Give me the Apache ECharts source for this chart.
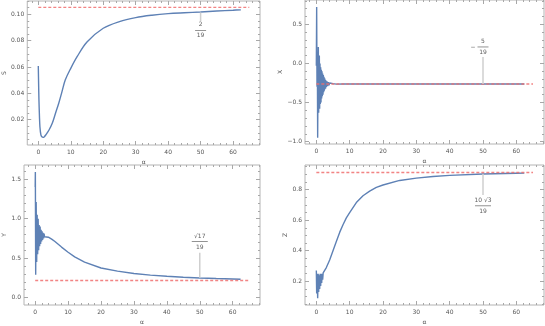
<!DOCTYPE html>
<html>
<head>
<meta charset="utf-8">
<script src="https://cdn.jsdelivr.net/npm/echarts@6/dist/echarts.min.js"></script>
<style>
  html, body { margin: 0; padding: 0; background: #fff; }
  #main { width: 545px; height: 326px; }
</style>
</head>
<body>
<div id="main"></div>
<script>
// 数据 (从图上读出来的)
var alphaS = [0, 0.1, 0.2, 0.35, 0.5, 0.8, 1.1, 1.5, 1.9, 2.3, 3.3, 4.3, 5.3, 6.3, 7.3, 8.3, 10, 12, 15, 20, 25, 30, 35, 40, 45, 50, 55, 60, 62.4];
var valS = [0.0608, 0.047, 0.035, 0.023, 0.0147, 0.0084, 0.007, 0.0066, 0.0072, 0.0084, 0.0122, 0.0173, 0.0249, 0.0325, 0.0413, 0.0501, 0.059, 0.068, 0.079, 0.0894, 0.0945, 0.0975, 0.0993, 0.1005, 0.1012, 0.1018, 0.1025, 0.1031, 0.1034];

var alphaX = [0, 0.1, 0.2, 0.3, 0.4, 0.5, 0.6, 0.7, 0.8, 0.9, 1.0, 1.1, 1.2, 1.3, 1.4, 1.5, 1.6, 1.7, 1.8, 1.9, 2.0, 2.1, 2.2, 2.3, 2.4, 2.5, 2.6, 2.7, 2.8, 2.9, 3.0, 3.2, 3.4, 3.6, 3.8, 4.0, 4.5, 5, 6, 8, 10, 20, 30, 40, 50, 60, 62.4];
var valX = [-0.03, 0.72, -0.3, 0.15, -0.95, -0.2, 0.21, -0.63, -0.1, 0.1, -0.58, 0.0, -0.52, -0.05, -0.5, -0.08, -0.45, -0.1, -0.42, -0.13, -0.4, -0.15, -0.37, -0.17, -0.35, -0.19, -0.33, -0.21, -0.32, -0.22, -0.3, -0.23, -0.29, -0.24, -0.28, -0.25, -0.27, -0.258, -0.265, -0.262, -0.263, -0.263, -0.263, -0.263, -0.263, -0.263, -0.263];

var alphaY = [0, 0.05, 0.15, 0.3, 0.45, 0.6, 0.75, 0.9, 1.05, 1.2, 1.35, 1.5, 1.65, 1.8, 1.95, 2.1, 2.25, 2.4, 2.55, 2.7, 2.85, 3.0, 4, 5, 6, 7, 8, 10, 12, 15, 20, 25, 30, 35, 40, 45, 50, 55, 60, 62.4];
var valY = [1.4, 1.59, 0.29, 1.21, 0.45, 1.05, 0.55, 1.0, 0.6, 0.92, 0.65, 0.9, 0.68, 0.86, 0.71, 0.84, 0.73, 0.82, 0.75, 0.81, 0.77, 0.785, 0.765, 0.74, 0.71, 0.675, 0.64, 0.575, 0.515, 0.45, 0.375, 0.335, 0.305, 0.285, 0.27, 0.258, 0.249, 0.242, 0.236, 0.233];

var alphaZ = [0, 0.1, 0.25, 0.4, 0.55, 0.7, 0.85, 1.0, 1.15, 1.3, 1.45, 1.6, 1.75, 1.9, 2.05, 2.5, 3, 4, 5, 6, 7, 8, 9, 10, 12, 14, 16, 18, 20, 25, 30, 35, 40, 50, 60, 62.4];
var valZ = [0.27, 0.12, 0.25, 0.09, 0.25, 0.13, 0.24, 0.15, 0.25, 0.17, 0.25, 0.19, 0.25, 0.21, 0.255, 0.26, 0.29, 0.34, 0.40, 0.46, 0.52, 0.57, 0.615, 0.65, 0.715, 0.76, 0.79, 0.815, 0.83, 0.86, 0.875, 0.886, 0.893, 0.902, 0.907, 0.908];

// 极限值 (红色虚线)
var refS = 2 / 19;
var refX = -5 / 19;
var refY = Math.sqrt(17) / 19;
var refZ = 10 * Math.sqrt(3) / 19;
var refSpan = [0, 65];

// 刻度
var xMajor = [0, 10, 20, 30, 40, 50, 60];
var xMinor = [-2, 2, 4, 6, 8, 12, 14, 16, 18, 22, 24, 26, 28, 32, 34, 36, 38, 42, 44, 46, 48, 52, 54, 56, 58, 62, 64, 66, 68];
var yMajorS = [0.02, 0.04, 0.06, 0.08, 0.10];
var yMinorS = [0.005, 0.01, 0.015, 0.025, 0.03, 0.035, 0.045, 0.05, 0.055, 0.065, 0.07, 0.075, 0.085, 0.09, 0.095, 0.105, 0.11];
var yMajorX = [-1.0, -0.5, 0.0, 0.5];
var yMinorX = [-0.9, -0.8, -0.7, -0.6, -0.4, -0.3, -0.2, -0.1, 0.1, 0.2, 0.3, 0.4, 0.6, 0.7, 0.8];
var yMajorY = [0.0, 0.5, 1.0, 1.5];
var yMinorY = [0.1, 0.2, 0.3, 0.4, 0.6, 0.7, 0.8, 0.9, 1.1, 1.2, 1.3, 1.4, 1.6];
var yMajorZ = [0.2, 0.4, 0.6, 0.8];
var yMinorZ = [0.05, 0.1, 0.15, 0.25, 0.3, 0.35, 0.45, 0.5, 0.55, 0.65, 0.7, 0.75, 0.85, 0.9, 0.95];

// 注释 (分数) 的位置
var noteAlpha = 50;

var myChart = echarts.init(document.getElementById('main'));

var frameColor = '#b4b4b4';
var tickColor = '#a8a8a8';
var textColor = '#555';
var blue = '#5E81B5';

function zip(a, b) {
    var out = [];
    for (var i = 0; i < a.length; i++) {
        out.push([a[i], b[i]]);
    }
    return out;
}

var panels = [
    {name: 'S', alpha: alphaS, val: valS, ref: refS, yMin: 0.0008, yMax: 0.1101, major: yMajorS, minor: yMinorS, digits: 2,
        grid: {left: 21, top: 1, width: 239, height: 144}, smooth: 0.35,
        line: [0.1014, 0.0949], note: 0.0878, num: '2', minus: false},
    {name: 'X', alpha: alphaX, val: valX, ref: refX, yMin: -1.03, yMax: 0.81, major: yMajorX, minor: yMinorX, digits: 1,
        grid: {left: 305, top: 0, width: 239, height: 144}, smooth: false,
        line: [refX, 0.082], note: 0.21, num: '5', minus: true},
    {name: 'Y', alpha: alphaY, val: valY, ref: refY, yMin: -0.094, yMax: 1.68, major: yMajorY, minor: yMinorY, digits: 1,
        grid: {left: 21, top: 165, width: 239, height: 145}, smooth: false,
        line: [0.25, 0.567], note: 0.71, num: '√17', minus: false},
    {name: 'Z', alpha: alphaZ, val: valZ, ref: refZ, yMin: 0.045, yMax: 0.961, major: yMajorZ, minor: yMinorZ, digits: 1,
        grid: {left: 305, top: 165, width: 239, height: 144}, smooth: false,
        line: [0.902, 0.764], note: 0.694, num: '10 √3', minus: false}
];

var grids = [], xAxes = [], yAxes = [], series = [];

panels.forEach(function (p, i) {
    grids.push({left: p.grid.left, top: p.grid.top, width: p.grid.width, height: p.grid.height,
        show: true, borderColor: frameColor, borderWidth: 1, backgroundColor: 'transparent'});

    // x 轴: 下/上, 主/次刻度
    ['bottom', 'top'].forEach(function (pos) {
        [true, false].forEach(function (isMajor) {
            var ax = {
                type: 'value', gridIndex: i, position: pos, min: -3.4, max: 68.3,
                axisLine: {show: false, onZero: false},
                splitLine: {show: false},
                axisTick: {show: true, inside: true, length: isMajor ? 4 : 2,
                    customValues: isMajor ? xMajor : xMinor,
                    lineStyle: {color: tickColor, width: 1}},
                axisLabel: {show: false}
            };
            if (pos == 'bottom' && isMajor) {
                ax.axisLabel = {show: true, customValues: xMajor, fontSize: 6, color: textColor, margin: 4,
                    fontFamily: 'DejaVu Sans'};
                ax.name = 'α';
                ax.nameLocation = 'middle';
                ax.nameGap = 14;
                ax.nameTextStyle = {fontSize: 6, color: textColor, fontFamily: 'DejaVu Sans'};
            }
            xAxes.push(ax);
        });
    });

    // y 轴: 左/右, 主/次刻度
    ['left', 'right'].forEach(function (pos) {
        [true, false].forEach(function (isMajor) {
            var ax = {
                type: 'value', gridIndex: i, position: pos, min: p.yMin, max: p.yMax,
                axisLine: {show: false, onZero: false},
                splitLine: {show: false},
                axisTick: {show: true, inside: true, length: isMajor ? 4 : 2,
                    customValues: isMajor ? p.major : p.minor,
                    lineStyle: {color: tickColor, width: 1}},
                axisLabel: {show: false}
            };
            if (pos == 'left' && isMajor) {
                ax.axisLabel = {show: true, customValues: p.major, fontSize: 6, color: textColor, margin: 3,
                    fontFamily: 'DejaVu Sans',
                    formatter: function (v) {
                        return v.toFixed(p.digits).replace('-', '\u2212');
                    }};
                ax.name = p.name;
                ax.nameLocation = 'middle';
                ax.nameGap = 17;
                ax.nameRotate = 90;
                ax.nameTextStyle = {fontSize: 6, color: textColor, fontFamily: 'DejaVu Sans'};
            }
            yAxes.push(ax);
        });
    });

    var xi = i * 4, yi = i * 4;

    // 红色虚线
    series.push({
        type: 'line', xAxisIndex: xi, yAxisIndex: yi, symbol: 'none', silent: true,
        data: [[refSpan[0], p.ref], [refSpan[1], p.ref]],
        lineStyle: {color: 'rgba(240,110,110,0.85)', width: 1.4, type: [3, 2]},
        z: 3
    });
    // 主曲线
    series.push({
        type: 'line', xAxisIndex: xi, yAxisIndex: yi, symbol: 'none', smooth: p.smooth,
        data: zip(p.alpha, p.val),
        lineStyle: {color: blue, width: 1.4},
        z: 2
    });
    // 注释竖线
    series.push({
        type: 'line', xAxisIndex: xi, yAxisIndex: yi, symbol: 'none', silent: true,
        data: [[noteAlpha, p.line[0]], [noteAlpha, p.line[1]]],
        lineStyle: {color: '#cfcfcf', width: 1.5},
        z: 4
    });
    // 分数
    series.push({
        type: 'scatter', xAxisIndex: xi, yAxisIndex: yi, symbolSize: 0, silent: true,
        data: [[noteAlpha, p.note]],
        label: {
            show: true, position: 'inside',
            formatter: '{n|' + p.num + '}\n{bar| }\n{d|19}',
            rich: {
                n: {fontSize: 6, color: '#333', align: 'center', lineHeight: 7, fontFamily: 'DejaVu Sans'},
                bar: {width: p.num.length > 2 ? 16 : 11, height: 0.8, backgroundColor: '#555', lineHeight: 4, fontSize: 1},
                d: {fontSize: 6, color: '#333', align: 'center', lineHeight: 7, fontFamily: 'DejaVu Sans'}
            }
        },
        z: 5
    });
    if (p.minus) {
        series.push({
            type: 'scatter', xAxisIndex: xi, yAxisIndex: yi, symbolSize: 0, silent: true,
            data: [[noteAlpha, p.note]],
            label: {show: true, position: 'inside', offset: [-10, 0], formatter: '\u2212',
                fontSize: 6, color: '#333', fontFamily: 'DejaVu Sans'},
            z: 5
        });
    }
});

var option = {
    backgroundColor: '#fff',
    animation: false,
    grid: grids,
    xAxis: xAxes,
    yAxis: yAxes,
    series: series
};
myChart.setOption(option);
</script>
</body>
</html>
